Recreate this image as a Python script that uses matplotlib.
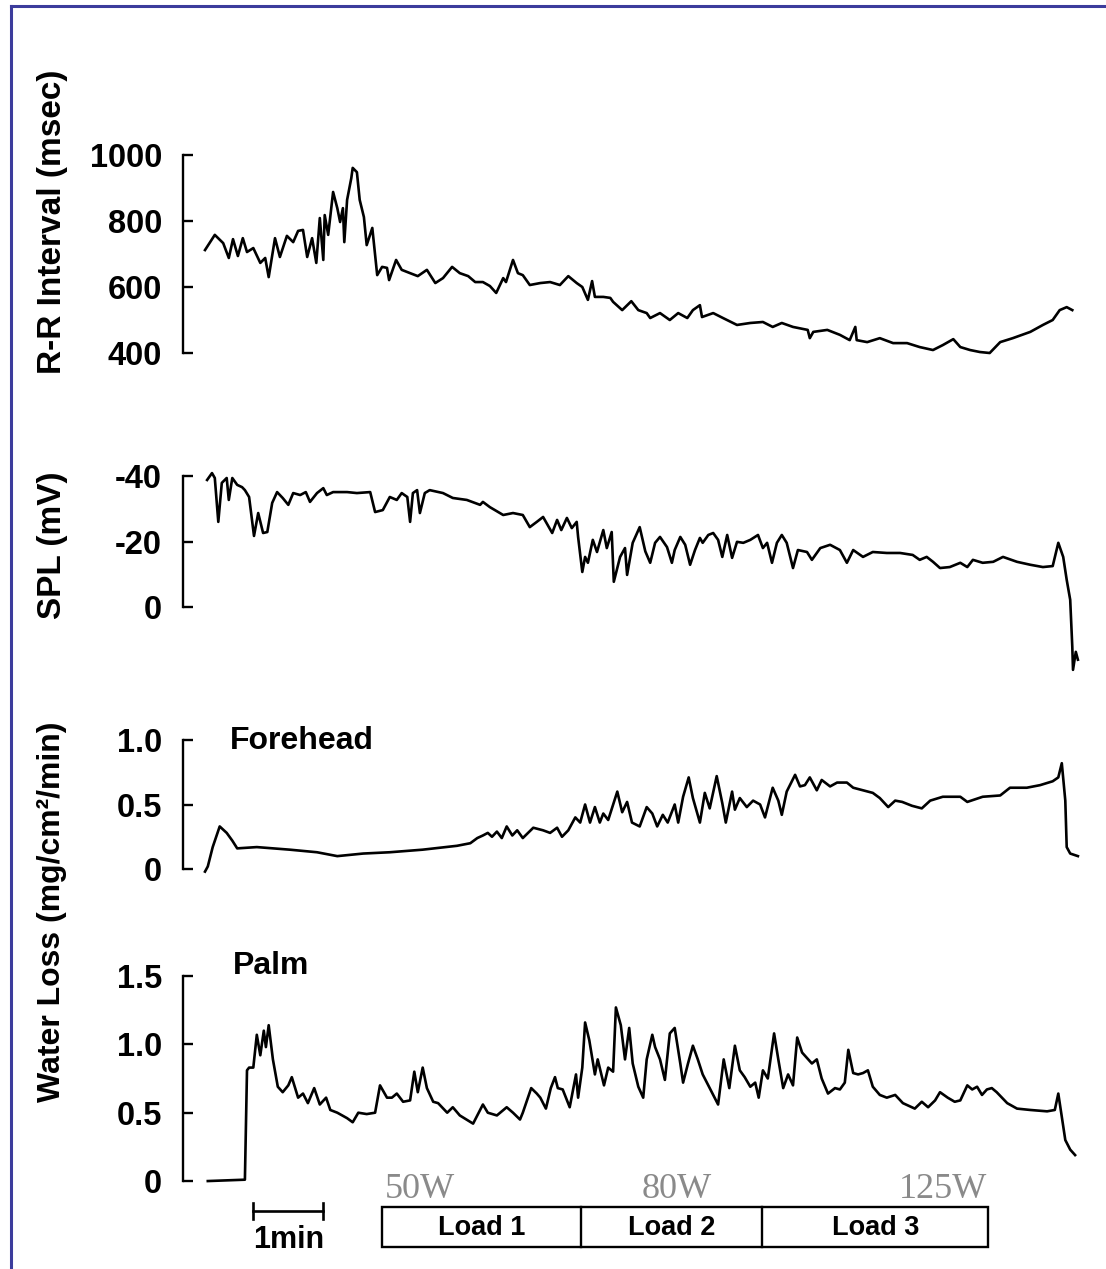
import matplotlib
matplotlib.use('Agg')
import matplotlib.pyplot as plt
from matplotlib.lines import Line2D
from matplotlib.patches import Rectangle

plt.rcParams['font.family'] = ['Liberation Sans', 'DejaVu Sans']
plt.rcParams['font.weight'] = 'bold'
plt.rcParams['axes.unicode_minus'] = False

# time in minutes from start of the trace

# R-R interval (msec)
rr_t = [0.00, 0.14, 0.26, 0.34, 0.40, 0.47, 0.54, 0.60, 0.69, 0.79, 0.86, 0.91, 1.00, 1.07,
        1.17, 1.26, 1.33, 1.40, 1.46, 1.53, 1.59, 1.64, 1.69, 1.71, 1.76, 1.83, 1.89, 1.93,
        1.97, 1.99, 2.03, 2.09, 2.11, 2.17, 2.21, 2.27, 2.31, 2.39, 2.46, 2.53, 2.60, 2.63,
        2.73, 2.81, 2.93, 3.04, 3.17, 3.29, 3.40, 3.53, 3.64, 3.76, 3.86, 3.97, 4.07, 4.16,
        4.26, 4.30, 4.40, 4.47, 4.54, 4.64, 4.79, 4.93, 5.07, 5.19, 5.31, 5.39, 5.47, 5.53,
        5.57, 5.69, 5.79, 5.83, 5.96, 6.09, 6.19, 6.31, 6.36, 6.50, 6.64, 6.76, 6.89, 6.97,
        7.07, 7.10, 7.26, 7.40, 7.60, 7.79, 7.97, 8.11, 8.24, 8.40, 8.61, 8.64, 8.69, 8.89,
        9.07, 9.21, 9.29, 9.31, 9.46, 9.64, 9.83, 10.03, 10.21, 10.40, 10.54, 10.69, 10.79,
        10.93, 11.07, 11.21, 11.36, 11.54, 11.79, 11.97, 12.11, 12.21, 12.31, 12.39]
rr_v = [712, 758, 733, 688, 745, 694, 748, 706, 718, 673, 688, 630, 748, 691,
        755, 736, 770, 773, 691, 748, 673, 809, 682, 818, 758, 888, 839, 797,
        839, 736, 864, 930, 961, 948, 864, 812, 727, 779, 636, 661, 658, 621,
        682, 652, 642, 633, 652, 612, 627, 661, 642, 633, 615, 615, 603, 582,
        627, 615, 682, 642, 636, 606, 612, 615, 606, 633, 612, 600, 561, 618,
        570, 570, 567, 555, 530, 557, 530, 521, 506, 521, 500, 521, 506, 530,
        545, 509, 521, 506, 485, 491, 494, 479, 491, 479, 470, 445, 464, 470,
        455, 439, 479, 439, 433, 445, 430, 430, 418, 409, 424, 442, 418,
        409, 403, 400, 433, 445, 464, 485, 500, 530, 539, 530]

# skin potential level (mV)
spl_t = [0.03, 0.10, 0.14, 0.19, 0.24, 0.31, 0.34, 0.39, 0.46, 0.53, 0.57, 0.63, 0.70, 0.76,
         0.83, 0.89, 0.96, 1.03, 1.11, 1.19, 1.26, 1.36, 1.44, 1.50, 1.60, 1.69, 1.74, 1.83,
         2.03, 2.17, 2.36, 2.43, 2.54, 2.64, 2.74, 2.81, 2.89, 2.93, 2.97, 3.03, 3.07, 3.14,
         3.21, 3.40, 3.54, 3.74, 3.93, 3.97, 4.07, 4.26, 4.40, 4.54, 4.64, 4.74, 4.83, 4.96,
         5.03, 5.09, 5.17, 5.24, 5.31, 5.33, 5.39, 5.43, 5.47, 5.54, 5.60, 5.69, 5.74, 5.81,
         5.84, 5.93, 6.00, 6.03, 6.11, 6.21, 6.29, 6.36, 6.43, 6.50, 6.60, 6.67, 6.71, 6.79,
         6.86, 6.93, 7.00, 7.07, 7.11, 7.19, 7.26, 7.33, 7.39, 7.46, 7.53, 7.60, 7.69, 7.79,
         7.90, 7.97, 8.03, 8.10, 8.17, 8.24, 8.31, 8.40, 8.47, 8.60, 8.67, 8.79, 8.93, 9.07,
         9.17, 9.26, 9.40, 9.54, 9.74, 9.93, 10.11, 10.21, 10.31, 10.40, 10.50, 10.64, 10.79,
         10.89, 10.97, 11.11, 11.26, 11.40, 11.60, 11.79, 11.97, 12.11, 12.19, 12.26, 12.31,
         12.36, 12.39, 12.40, 12.44, 12.47]
spl_v = [-38.8, -40.9, -39.4, -26.0, -37.9, -39.4, -32.7, -39.4, -37.3, -36.6, -35.7, -33.6, -21.7, -28.7,
         -22.6, -22.9, -31.8, -35.1, -33.3, -31.2, -34.8, -34.2, -35.1, -32.1, -34.8, -36.3, -34.2, -35.1,
         -35.1, -34.8, -35.1, -29.0, -29.6, -33.6, -32.7, -34.8, -33.6, -26.0, -34.8, -35.7, -28.7, -34.8,
         -35.7, -34.8, -33.3, -32.7, -31.2, -32.1, -30.5, -28.1, -28.7, -28.1, -24.4, -26.0, -27.5, -22.6,
         -26.6, -23.5, -27.2, -24.1, -26.0, -21.4, -10.7, -15.3, -13.5, -20.5, -16.8, -23.5, -18.0, -22.9,
         -7.7, -15.3, -18.0, -9.8, -19.6, -24.4, -17.0, -13.5, -19.6, -21.4, -18.3, -13.5, -17.4, -21.4,
         -19.0, -12.9, -17.4, -21.1, -19.6, -22.0, -22.6, -20.5, -15.3, -22.0, -15.0, -19.9, -19.6, -20.5,
         -22.0, -18.0, -19.6, -13.5, -19.6, -22.0, -19.6, -11.9, -17.4, -16.8, -14.4, -18.0, -19.0, -17.4,
         -13.5, -17.4, -15.3, -16.8, -16.5, -16.5, -15.9, -14.4, -15.3, -13.8, -11.9, -12.2, -13.5,
         -12.2, -14.4, -13.5, -13.8, -15.3, -13.8, -12.9, -12.2, -12.5, -19.6, -15.3, -8.3,
         -2.2, 12.2, 19.2, 13.7, 16.1]

# forehead water loss (mg/cm2/min)
fh_t = [0.00, 0.04, 0.11, 0.21, 0.31, 0.39, 0.46, 0.74, 1.21, 1.60, 1.89, 2.26, 2.64, 3.11,
        3.60, 3.79, 3.89, 3.97, 4.04, 4.10, 4.17, 4.24, 4.31, 4.39, 4.46, 4.54, 4.69, 4.83,
        4.93, 5.03, 5.10, 5.19, 5.29, 5.36, 5.43, 5.50, 5.57, 5.64, 5.69, 5.76, 5.89, 5.96,
        6.03, 6.10, 6.21, 6.31, 6.39, 6.46, 6.54, 6.61, 6.71, 6.76, 6.83, 6.91, 6.97, 7.07,
        7.14, 7.21, 7.31, 7.39, 7.44, 7.53, 7.57, 7.64, 7.74, 7.83, 7.93, 8.00, 8.11, 8.19,
        8.24, 8.31, 8.43, 8.50, 8.57, 8.64, 8.74, 8.81, 8.93, 9.03, 9.17, 9.26, 9.40, 9.54,
        9.64, 9.76, 9.86, 9.96, 10.10, 10.24, 10.36, 10.54, 10.79, 10.89, 11.11, 11.36, 11.50,
        11.74, 11.93, 12.11, 12.19, 12.24, 12.29, 12.31, 12.36, 12.47]
fh_v = [-0.02, 0.02, 0.17, 0.33, 0.28, 0.22, 0.16, 0.17, 0.15, 0.13, 0.10, 0.12, 0.13, 0.15,
        0.18, 0.20, 0.24, 0.26, 0.28, 0.25, 0.29, 0.24, 0.33, 0.26, 0.30, 0.24, 0.32, 0.30,
        0.28, 0.32, 0.25, 0.30, 0.40, 0.36, 0.50, 0.36, 0.48, 0.36, 0.43, 0.38, 0.60, 0.44,
        0.52, 0.36, 0.33, 0.48, 0.43, 0.33, 0.42, 0.36, 0.50, 0.36, 0.56, 0.71, 0.55, 0.36,
        0.59, 0.47, 0.72, 0.51, 0.36, 0.60, 0.46, 0.55, 0.48, 0.53, 0.50, 0.40, 0.63, 0.53,
        0.42, 0.60, 0.73, 0.64, 0.65, 0.71, 0.61, 0.69, 0.64, 0.67, 0.67, 0.63, 0.61, 0.59,
        0.55, 0.48, 0.53, 0.52, 0.49, 0.47, 0.53, 0.56, 0.56, 0.52, 0.56, 0.57, 0.63,
        0.63, 0.65, 0.68, 0.71, 0.82, 0.53, 0.17, 0.12, 0.10]

# palm water loss (mg/cm2/min)
palm_t = [0.04, 0.57, 0.60, 0.63, 0.69, 0.74, 0.79, 0.84, 0.87, 0.91, 0.97, 1.04, 1.11, 1.19,
          1.24, 1.33, 1.40, 1.47, 1.56, 1.64, 1.73, 1.79, 1.89, 2.03, 2.11, 2.19, 2.31, 2.43,
          2.50, 2.60, 2.67, 2.74, 2.83, 2.93, 2.99, 3.04, 3.11, 3.17, 3.26, 3.33, 3.46, 3.54,
          3.64, 3.83, 3.97, 4.04, 4.17, 4.31, 4.40, 4.50, 4.54, 4.66, 4.74, 4.79, 4.87, 4.94,
          5.00, 5.04, 5.11, 5.21, 5.30, 5.33, 5.39, 5.43, 5.49, 5.57, 5.61, 5.70, 5.76, 5.83,
          5.87, 5.94, 6.00, 6.06, 6.11, 6.19, 6.26, 6.31, 6.39, 6.43, 6.50, 6.57, 6.64, 6.71,
          6.79, 6.83, 6.90, 6.97, 7.04, 7.11, 7.19, 7.26, 7.33, 7.41, 7.49, 7.57, 7.64, 7.71,
          7.79, 7.86, 7.91, 7.97, 8.04, 8.13, 8.19, 8.26, 8.33, 8.40, 8.46, 8.53, 8.60, 8.67,
          8.74, 8.81, 8.90, 9.00, 9.07, 9.14, 9.19, 9.26, 9.33, 9.40, 9.47, 9.54, 9.64, 9.74,
          9.86, 9.97, 10.14, 10.24, 10.33, 10.43, 10.50, 10.61, 10.71, 10.79, 10.89, 10.96,
          11.03, 11.10, 11.17, 11.24, 11.31, 11.46, 11.60, 11.79, 12.03, 12.14, 12.19, 12.24,
          12.29, 12.36, 12.43]
palm_v = [0.00, 0.01, 0.81, 0.83, 0.83, 1.07, 0.92, 1.10, 0.98, 1.14, 0.89, 0.69, 0.65, 0.70,
          0.76, 0.61, 0.64, 0.57, 0.68, 0.56, 0.61, 0.52, 0.50, 0.46, 0.43, 0.50, 0.49, 0.50,
          0.70, 0.61, 0.61, 0.64, 0.58, 0.59, 0.80, 0.65, 0.83, 0.68, 0.58, 0.57, 0.50, 0.54,
          0.48, 0.42, 0.56, 0.50, 0.48, 0.54, 0.50, 0.45, 0.50, 0.68, 0.64, 0.61, 0.53, 0.68,
          0.76, 0.68, 0.67, 0.54, 0.78, 0.61, 0.83, 1.16, 1.03, 0.78, 0.89, 0.70, 0.83, 0.80,
          1.27, 1.14, 0.89, 1.12, 0.86, 0.69, 0.61, 0.89, 1.07, 0.98, 0.89, 0.74, 1.08, 1.12,
          0.86, 0.72, 0.86, 0.99, 0.89, 0.78, 0.70, 0.63, 0.56, 0.89, 0.68, 0.99, 0.81, 0.76,
          0.69, 0.72, 0.61, 0.81, 0.75, 1.08, 0.89, 0.68, 0.78, 0.70, 1.05, 0.94, 0.90, 0.86,
          0.89, 0.75, 0.64, 0.68, 0.67, 0.72, 0.96, 0.79, 0.78, 0.79, 0.81, 0.69, 0.63, 0.61,
          0.63, 0.57, 0.53, 0.58, 0.54, 0.59, 0.65, 0.61, 0.58, 0.59, 0.70, 0.67,
          0.69, 0.63, 0.67, 0.68, 0.65, 0.57, 0.53, 0.52, 0.51, 0.52, 0.64, 0.47,
          0.30, 0.23, 0.19]

# exercise protocol
load_edges = [2.53, 5.37, 7.96, 11.19]
load_names = ['Load 1', 'Load 2', 'Load 3']
watt_labels = ['50W', '80W', '125W']
watt_pos = [3.07, 6.74, 10.54]
scale_start, scale_len = 0.69, 1.0

W, H = 1106, 1269
fig = plt.figure(figsize=(W / 100, H / 100), dpi=100)

XMIN = -22 / 70
XMAX = XMIN + 902 / 70


def px_rect(top, bottom):
    return [183 / W, 1 - bottom / H, 902 / W, (bottom - top) / H]


def trace_axes(top, bottom, t, v, ylim, ticks, labels):
    ax = fig.add_axes(px_rect(top, bottom))
    ax.patch.set_alpha(0)
    ax.plot(t, v, color='black', lw=1.9)
    ax.set_xlim(XMIN, XMAX)
    ax.set_ylim(*ylim)
    for s in ['top', 'right', 'bottom']:
        ax.spines[s].set_visible(False)
    ax.spines['left'].set_bounds(min(ticks), max(ticks))
    ax.spines['left'].set_linewidth(1.7)
    ax.set_xticks([])
    ax.set_yticks(ticks)
    ax.set_yticklabels(labels)
    ax.tick_params(axis='y', direction='in', length=7, width=1.7, pad=15, labelsize=23.5)
    return ax


ax1 = trace_axes(140, 370, rr_t, rr_v, (348.5, 1045.5),
                 [400, 600, 800, 1000], ['400', '600', '800', '1000'])
ax2 = trace_axes(460, 680, spl_t, spl_v, (22.3, -44.9),
                 [-40, -20, 0], ['-40', '-20', '0'])
ax3 = trace_axes(725, 880, fh_t, fh_v, (-0.085, 1.116),
                 [0, 0.5, 1.0], ['0', '0.5', '1.0'])
ax4 = trace_axes(960, 1195, palm_t, palm_v, (-0.102, 1.617),
                 [0, 0.5, 1.0, 1.5], ['0', '0.5', '1.0', '1.5'])

ax3.text(0.36, 0.99, 'Forehead', fontsize=23, va='center', ha='left')
ax4.text(0.40, 1.57, 'Palm', fontsize=23, va='center', ha='left')

fig.text(52 / W, 1 - 222 / H, 'R-R Interval (msec)', rotation=90, fontsize=24,
         ha='center', va='center')
fig.text(52 / W, 1 - 545 / H, 'SPL (mV)', rotation=90, fontsize=24,
         ha='center', va='center')
fig.text(52 / W, 1 - 912 / H, 'Water Loss (mg/cm\u00b2/min)', rotation=90, fontsize=23,
         ha='center', va='center')

# protocol bar and time scale, y in pixels of the page
axb = fig.add_axes(px_rect(1165, 1262))
axb.axis('off')
axb.set_xlim(XMIN, XMAX)
axb.set_ylim(1262, 1165)
axb.add_patch(Rectangle((load_edges[0], 1207), load_edges[-1] - load_edges[0], 40,
                        fill=False, lw=1.7, ec='black'))
for e in load_edges[1:-1]:
    axb.plot([e, e], [1207, 1247], color='black', lw=1.7)
for i, name in enumerate(load_names):
    axb.text((load_edges[i] + load_edges[i + 1]) / 2, 1228, name, fontsize=19.5,
             ha='center', va='center')
for lab, x in zip(watt_labels, watt_pos):
    axb.text(x, 1190, lab, fontsize=26, color='#8a8a8a', ha='center', va='center',
             family='Liberation Serif', weight='normal')
axb.plot([scale_start, scale_start + scale_len], [1211, 1211], color='black', lw=1.9)
for x in [scale_start, scale_start + scale_len]:
    axb.plot([x, x], [1203, 1219], color='black', lw=1.9)
axb.text(scale_start + scale_len / 2, 1240, '1min', fontsize=22, ha='center', va='center')

# page frame
fig.add_artist(Line2D([11 / W, 11 / W], [0, 1 - 6 / H], color='#3c3c9c', lw=2.2,
                      transform=fig.transFigure))
fig.add_artist(Line2D([11 / W, 1], [1 - 6 / H, 1 - 6 / H], color='#3c3c9c', lw=2.2,
                      transform=fig.transFigure))

fig.savefig('out.png', dpi=100)
